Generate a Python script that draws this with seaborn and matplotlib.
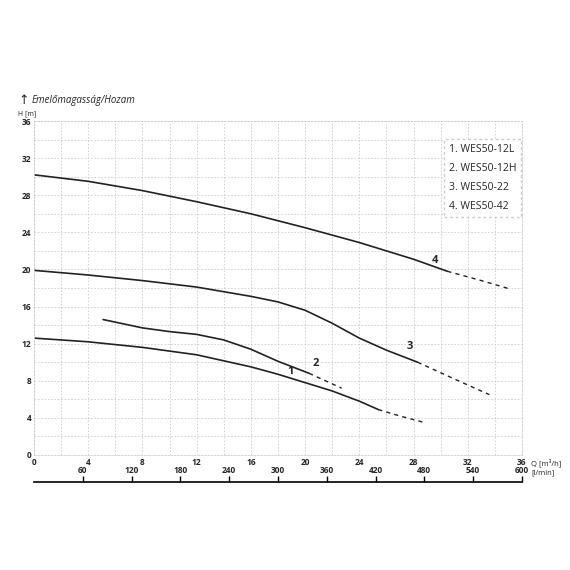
import matplotlib.pyplot as plt
import seaborn as sns

# curve data: Q [m3/h], H [m]
q1 = [0, 4, 8, 12, 16, 18, 20, 22, 24, 25.4]
h1 = [12.6, 12.2, 11.6, 10.8, 9.5, 8.7, 7.8, 6.9, 5.8, 4.9]
q1d = [25.4, 27, 28.8]
h1d = [4.9, 4.2, 3.5]

q2 = [5.1, 8, 10, 12, 14, 16, 18, 20.3]
h2 = [14.6, 13.7, 13.3, 13.0, 12.4, 11.4, 10.1, 8.8]
q2d = [20.3, 21.5, 22.7]
h2d = [8.8, 8.0, 7.2]

q3 = [0, 4, 8, 12, 16, 18, 20, 22, 24, 26, 28.3]
h3 = [19.9, 19.4, 18.8, 18.1, 17.1, 16.5, 15.6, 14.2, 12.6, 11.3, 10.0]
q3d = [28.3, 31, 33.6]
h3d = [10.0, 8.2, 6.5]

q4 = [0, 4, 8, 12, 16, 20, 24, 28, 30.5]
h4 = [30.2, 29.5, 28.5, 27.3, 26.0, 24.5, 22.9, 21.1, 19.8]
q4d = [30.5, 33, 35.1]
h4d = [19.8, 18.8, 17.9]

curve_names = ["1. WES50-12L", "2. WES50-12H", "3. WES50-22", "4. WES50-42"]
label_pos = [(18.9, 9.0), (20.8, 9.9), (27.7, 11.7), (29.6, 21.0)]
lmin_ticks = list(range(60, 601, 60))

sns.set_theme(style="white")
plt.rcParams["font.family"] = ["Open Sans", "DejaVu Sans"]

fig = plt.figure(figsize=(5.7, 5.7), dpi=100)
ax = fig.add_axes([0.0596, 0.2018, 0.8561, 0.5859])

solid = [(q1, h1), (q2, h2), (q3, h3), (q4, h4)]
dashed = [(q1d, h1d), (q2d, h2d), (q3d, h3d), (q4d, h4d)]
for (qs, hs), (qd, hd) in zip(solid, dashed):
    sns.lineplot(x=qs, y=hs, ax=ax, color="#222222", lw=1.2, sort=False)
    sns.lineplot(x=qd, y=hd, ax=ax, color="#222222", lw=1.0, sort=False,
                 linestyle=(0, (3, 3)))

for i, (x, y) in enumerate(label_pos):
    ax.text(x, y, str(i + 1), fontsize=8, fontweight="bold", ha="center", va="center")

ax.set_xlim(0, 36)
ax.set_ylim(0, 36)
ax.set_xticks(range(0, 37, 2))
ax.set_yticks(range(0, 37, 2))
ax.set_xticklabels([str(v) if v % 4 == 0 else "" for v in range(0, 37, 2)],
                   fontsize=6, fontweight="bold")
ax.set_yticklabels([str(v) if v % 4 == 0 else "" for v in range(0, 37, 2)],
                   fontsize=6, fontweight="bold")
ax.tick_params(length=0, pad=2)
ax.grid(True, color="#cccccc", linestyle=(0, (2, 2)), lw=0.6)
for s in ax.spines.values():
    s.set_color("#cccccc")
    s.set_linestyle((0, (2, 2)))
    s.set_linewidth(0.6)

# legend box
ax.text(30.6, 33.5, "\n".join(curve_names), fontsize=7.5, va="top", ha="left",
        linespacing=2.0,
        bbox=dict(facecolor="white", edgecolor="#cccccc", linestyle=(0, (2, 2)),
                  boxstyle="square,pad=0.5"))

fig.text(0.032, 0.823, "↑", fontsize=9, ha="left", va="center")
fig.text(0.055, 0.823, "Emelőmagasság/Hozam", fontsize=7, style="italic",
         ha="left", va="center")
fig.text(0.032, 0.801, "H [m]", fontsize=5, ha="left", va="center")
fig.text(0.932, 0.196, "Q [m³/h]", fontsize=5.5, ha="left", va="top")

# l/min axis
ax2 = fig.add_axes([0.0596, 0.10, 0.8561, 0.0544])
ax2.set_xlim(0, 600)
ax2.set_ylim(0, 1)
ax2.patch.set_alpha(0)
for k in ["left", "right", "bottom"]:
    ax2.spines[k].set_visible(False)
ax2.spines["top"].set_color("black")
ax2.spines["top"].set_linewidth(1.2)
ax2.xaxis.tick_top()
ax2.set_xticks(lmin_ticks)
ax2.set_xticklabels([str(v) for v in lmin_ticks], fontsize=6, fontweight="bold")
ax2.tick_params(axis="x", direction="out", length=4, width=1, color="black", pad=1)
ax2.set_yticks([])
fig.text(0.932, 0.17, "[l/min]", fontsize=5.5, ha="left", va="center")

fig.savefig("out.png", dpi=100)
